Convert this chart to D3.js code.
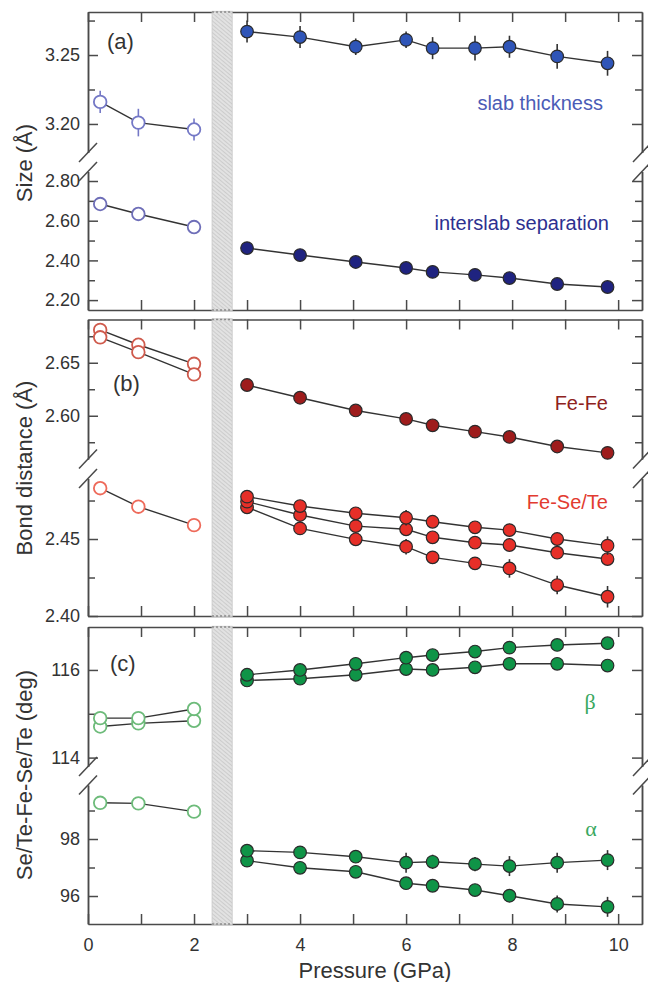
<!DOCTYPE html>
<html lang="en">
<head>
<meta charset="UTF-8" />
<title>Pressure dependence of slab, bond and angle parameters</title>
<style>
  body { margin: 0; background: #fff; }
  svg { font-family: "Liberation Sans", Arial, sans-serif; }
  .axis path, .axis line { stroke: #4a4a4a; stroke-width: 1.5px; }
  .axis text { font-size: 18px; fill: #333; }
  .series-line { fill: none; stroke: #333; stroke-width: 1.4px; }
</style>
</head>
<body>
<svg width="648" height="982"></svg>
<script src="https://d3js.org/d3.v7.min.js"></script>
<script>
// pressures (GPa)
const pOpen = [0.23, 0.95, 2.0];
const pFilled = [3.0, 4.0, 5.05, 6.0, 6.5, 7.3, 7.95, 8.85, 9.8];

// (a) size (A)
const slabOpen = [3.216, 3.201, 3.196];
const slabOpenErr = [0.008, 0.010, 0.008];
const slabFilled = [3.267, 3.263, 3.256, 3.261, 3.255, 3.255, 3.256, 3.249, 3.244];
const slabFilledErr = [0.008, 0.008, 0.006, 0.006, 0.008, 0.009, 0.008, 0.009, 0.009];
const interOpen = [2.684, 2.634, 2.568];
const interFilled = [2.462, 2.427, 2.392, 2.362, 2.342, 2.327, 2.311, 2.281, 2.266];

// (b) bond distance (A)
const feFeOpen1 = [2.681, 2.667, 2.649];
const feFeOpen2 = [2.674, 2.660, 2.639];
const feFeFilled = [2.629, 2.617, 2.605, 2.597, 2.591, 2.585, 2.580, 2.571, 2.565];
const feSeOpen = [2.483, 2.471, 2.459];
const feSeFilled1 = [2.4775, 2.4714, 2.4667, 2.4638, 2.4612, 2.4576, 2.4558, 2.4500, 2.4457];
const feSeFilled2 = [2.4743, 2.4656, 2.4584, 2.4563, 2.4511, 2.4476, 2.4461, 2.4411, 2.4370];
const feSeFilled3 = [2.4706, 2.4569, 2.4498, 2.4450, 2.4381, 2.4342, 2.4309, 2.4201, 2.4125];
const feSeErr3 = [0.002, 0.002, 0.003, 0.005, 0.004, 0.004, 0.006, 0.006, 0.007];
const feSeErr1 = [0.002, 0.002, 0.002, 0.005, 0.003, 0.003, 0.004, 0.004, 0.006];

// (c) angles (deg)
const betaOpen1 = [114.90, 114.90, 115.11];
const betaOpen2 = [114.71, 114.78, 114.84];
const betaFilled1 = [115.89, 116.00, 116.14, 116.28, 116.34, 116.42, 116.51, 116.57, 116.61];
const betaFilled2 = [115.76, 115.80, 115.89, 116.02, 116.00, 116.06, 116.14, 116.14, 116.10];
const alphaOpen = [99.27, 99.25, 98.96];
const alphaFilled1 = [97.59, 97.53, 97.38, 97.17, 97.20, 97.12, 97.05, 97.17, 97.26];
const alphaFilled1Err = [0.15, 0.15, 0.15, 0.35, 0.25, 0.25, 0.35, 0.35, 0.35];
const alphaFilled2 = [97.24, 96.99, 96.85, 96.45, 96.36, 96.21, 96.01, 95.72, 95.62];
const alphaFilled2Err = [0.1, 0.1, 0.1, 0.2, 0.2, 0.2, 0.2, 0.3, 0.35];

const xTicks = d3.range(0, 11);
const xTickLabels = [0, 2, 4, 6, 8, 10];

const svg = d3.select('svg');
const left = 88, right = 642;
const x = d3.scaleLinear().domain([0, 10.45]).range([left, right]);

// hatch pattern for the transition band
const defs = svg.append('defs');
const pat = defs.append('pattern')
    .attr('id', 'hatch').attr('patternUnits', 'userSpaceOnUse')
    .attr('width', 3).attr('height', 3)
    .attr('patternTransform', 'rotate(-50)');
pat.append('rect').attr('width', 3).attr('height', 3).attr('fill', '#e2e2e2');
pat.append('line').attr('x1', 0).attr('y1', 0).attr('x2', 0).attr('y2', 3)
    .attr('stroke', '#bdbdbd').attr('stroke-width', 1.2);

const panels = [
    {
        id: 'a', top: 12, bottom: 310, brk: [152.5, 171.5],
        hi: [3.1793, 3.2812], lo: [2.1501, 2.8479],
        hiMajor: [3.20, 3.25], hiMinor: [3.225, 3.275],
        loMajor: [2.20, 2.40, 2.60, 2.80], loMinor: [2.30, 2.50, 2.70],
        fmt: d3.format('.2f'),
        title: 'Size (\u00C5)', titleY: 163,
        tag: '(a)', tagX: 107, tagY: 49
    },
    {
        id: 'b', top: 319.5, bottom: 616, brk: [459, 478.5],
        hi: [2.5592, 2.6908], lo: [2.40, 2.4893],
        hiMajor: [2.60, 2.65], hiMinor: [2.575, 2.625, 2.675],
        loMajor: [2.40, 2.45], loMinor: [2.425, 2.475],
        fmt: d3.format('.2f'),
        title: 'Bond distance (\u00C5)', titleY: 468,
        tag: '(b)', tagX: 113, tagY: 391
    },
    {
        id: 'c', top: 627, bottom: 924, brk: [766.5, 785],
        hi: [113.797, 116.98], lo: [95.018, 99.895],
        hiMajor: [114, 116], hiMinor: [115],
        loMajor: [96, 98], loMinor: [97, 99],
        fmt: d3.format('d'),
        title: 'Se/Te-Fe-Se/Te (deg)', titleY: 775,
        tag: '(c)', tagX: 110, tagY: 671
    }
];

panels.forEach(p => {
    p.yHi = d3.scaleLinear().domain(p.hi).range([p.brk[0], p.top]);
    p.yLo = d3.scaleLinear().domain(p.lo).range([p.bottom, p.brk[1]]);
});

function drawFrame(p, isLast) {
    const g = svg.append('g');
    // y axes, left and right, each segment separately
    [['yHi', 'hiMajor', 'hiMinor'], ['yLo', 'loMajor', 'loMinor']].forEach(([s, maj, mnr]) => {
        g.append('g').attr('class', 'axis').attr('transform', `translate(${left},0)`)
            .call(d3.axisLeft(p[s]).tickValues(p[maj]).tickFormat(p.fmt)
                .tickSizeInner(-10).tickSizeOuter(0).tickPadding(8));
        g.append('g').attr('class', 'axis').attr('transform', `translate(${left},0)`)
            .call(d3.axisLeft(p[s]).tickValues(p[mnr]).tickFormat('')
                .tickSizeInner(-7).tickSizeOuter(0));
        g.append('g').attr('class', 'axis').attr('transform', `translate(${right},0)`)
            .call(d3.axisRight(p[s]).tickValues(p[maj]).tickFormat('')
                .tickSizeInner(-10).tickSizeOuter(0));
        g.append('g').attr('class', 'axis').attr('transform', `translate(${right},0)`)
            .call(d3.axisRight(p[s]).tickValues(p[mnr]).tickFormat('')
                .tickSizeInner(-7).tickSizeOuter(0));
    });
    // x axes top and bottom
    g.append('g').attr('class', 'axis').attr('transform', `translate(0,${p.top})`)
        .call(d3.axisTop(x).tickValues(xTicks).tickFormat('').tickSizeInner(-10).tickSizeOuter(0));
    const bx = g.append('g').attr('class', 'axis').attr('transform', `translate(0,${p.bottom})`)
        .call(d3.axisBottom(x).tickValues(xTicks)
            .tickFormat(d => (isLast && xTickLabels.includes(d)) ? d : '')
            .tickSizeInner(-10).tickSizeOuter(0).tickPadding(14));

    // transition band
    const bx0 = x(2.34), bx1 = x(2.72);
    g.append('rect').attr('x', bx0).attr('y', p.top - 0.75)
        .attr('width', bx1 - bx0).attr('height', p.bottom - p.top + 1.5)
        .attr('fill', 'url(#hatch)').attr('stroke', '#c8c8c8').attr('stroke-width', 0.8);
    [p.top, p.bottom].forEach(yy => {
        g.append('line').attr('x1', bx0).attr('x2', bx1).attr('y1', yy).attr('y2', yy)
            .attr('stroke', '#8a8a8a').attr('stroke-width', 1.5).attr('stroke-dasharray', '2,2');
    });

    // axis break marks
    [left, right].forEach(ax => {
        p.brk.forEach(yc => {
            g.append('line').attr('x1', ax - 9).attr('y1', yc + 9.5)
                .attr('x2', ax + 9).attr('y2', yc - 9.5)
                .attr('stroke', '#4a4a4a').attr('stroke-width', 1.5);
        });
    });

    // y title and panel tag
    svg.append('text').attr('transform', `translate(24,${p.titleY}) rotate(-90)`)
        .attr('text-anchor', 'middle').attr('dominant-baseline', 'central')
        .attr('font-size', 22).attr('fill', '#333').text(p.title);
    svg.append('text').attr('x', p.tagX).attr('y', p.tagY)
        .attr('font-size', 22).attr('fill', '#333').text(p.tag);
}

panels.forEach((p, i) => drawFrame(p, i === panels.length - 1));

const line = (xs, ys, y) => d3.line().x((d, i) => x(xs[i])).y(d => y(d))(ys);

function drawSeries(xs, ys, y, opt) {
    const g = svg.append('g');
    g.append('path').attr('class', 'series-line').attr('d', line(xs, ys, y));
    if (opt.err) {
        g.selectAll('line.err').data(ys).join('line').attr('class', 'err')
            .attr('x1', (d, i) => x(xs[i])).attr('x2', (d, i) => x(xs[i]))
            .attr('y1', (d, i) => y(d - opt.err[i])).attr('y2', (d, i) => y(d + opt.err[i]))
            .attr('stroke', opt.open ? opt.color : '#333').attr('stroke-width', 1.6);
    }
    g.selectAll('circle').data(ys).join('circle')
        .attr('cx', (d, i) => x(xs[i])).attr('cy', d => y(d)).attr('r', 6.3)
        .attr('fill', opt.open ? '#fff' : opt.color)
        .attr('stroke', opt.open ? opt.color : '#2a2a2a')
        .attr('stroke-width', opt.open ? 1.8 : 1.2);
}

const [pa, pb, pc] = panels;
const cSlab = '#2f55b8', cSlabOpen = '#7478c6';
const cInter = '#1f2380', cInterOpen = '#6e6eb8';
const cFeFe = '#9e1c1c', cFeFeOpen = '#cf5a4c';
const cFeSe = '#e62f28', cFeSeOpen = '#ee6a5a';
const cGreen = '#0f9447', cGreenOpen = '#6dbb7a';

// (a)
drawSeries(pOpen, slabOpen, pa.yHi, { open: true, color: cSlabOpen, err: slabOpenErr });
drawSeries(pFilled, slabFilled, pa.yHi, { color: cSlab, err: slabFilledErr });
drawSeries(pOpen, interOpen, pa.yLo, { open: true, color: cInterOpen });
drawSeries(pFilled, interFilled, pa.yLo, { color: cInter });

// (b)
drawSeries(pOpen, feFeOpen1, pb.yHi, { open: true, color: cFeFeOpen });
drawSeries(pOpen, feFeOpen2, pb.yHi, { open: true, color: cFeFeOpen });
drawSeries(pFilled, feFeFilled, pb.yHi, { color: cFeFe });
drawSeries(pOpen, feSeOpen, pb.yLo, { open: true, color: cFeSeOpen });
drawSeries(pFilled, feSeFilled3, pb.yLo, { color: cFeSe, err: feSeErr3 });
drawSeries(pFilled, feSeFilled2, pb.yLo, { color: cFeSe });
drawSeries(pFilled, feSeFilled1, pb.yLo, { color: cFeSe, err: feSeErr1 });

// (c)
drawSeries(pOpen, betaOpen2, pc.yHi, { open: true, color: cGreenOpen });
drawSeries(pOpen, betaOpen1, pc.yHi, { open: true, color: cGreenOpen });
drawSeries(pFilled, betaFilled2, pc.yHi, { color: cGreen });
drawSeries(pFilled, betaFilled1, pc.yHi, { color: cGreen });
drawSeries(pOpen, alphaOpen, pc.yLo, { open: true, color: cGreenOpen });
drawSeries(pFilled, alphaFilled2, pc.yLo, { color: cGreen, err: alphaFilled2Err });
drawSeries(pFilled, alphaFilled1, pc.yLo, { color: cGreen, err: alphaFilled1Err });

// series labels
const labels = [
    { t: 'slab thickness', x: 603, y: 110, c: '#4b5cb6' },
    { t: 'interslab separation', x: 609, y: 230, c: '#2d3090' },
    { t: 'Fe-Fe', x: 608, y: 410, c: '#8e2220' },
    { t: 'Fe-Se/Te', x: 608, y: 509, c: '#e23b30' }
];
svg.selectAll('text.slabel').data(labels).join('text').attr('class', 'slabel')
    .attr('x', d => d.x).attr('y', d => d.y).attr('text-anchor', 'end')
    .attr('font-size', 20).attr('fill', d => d.c).text(d => d.t);

svg.append('text').attr('x', 590).attr('y', 709).attr('text-anchor', 'middle')
    .attr('font-family', '"Liberation Serif", "DejaVu Serif", serif')
    .attr('font-size', 22).attr('fill', '#3aa860').text('\u03B2');
svg.append('text').attr('x', 591).attr('y', 836).attr('text-anchor', 'middle')
    .attr('font-family', '"Liberation Serif", "DejaVu Serif", serif')
    .attr('font-size', 22).attr('fill', '#3aa860').text('\u03B1');

// x title
svg.append('text').attr('x', 375).attr('y', 978).attr('text-anchor', 'middle')
    .attr('font-size', 22).attr('fill', '#333').text('Pressure (GPa)');
</script>
</body>
</html>
